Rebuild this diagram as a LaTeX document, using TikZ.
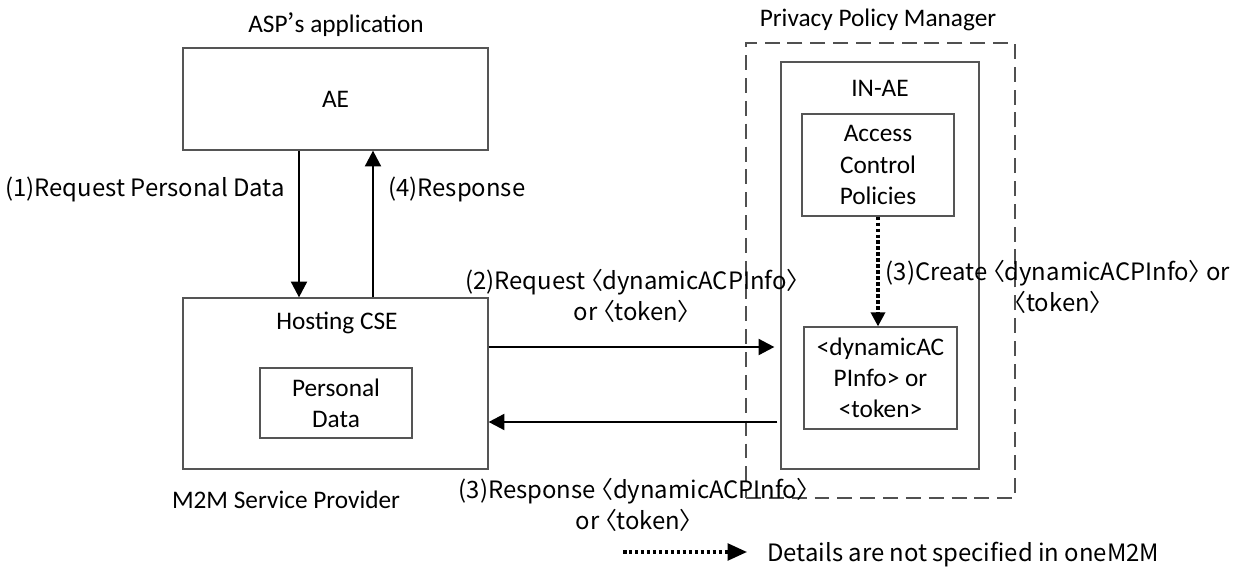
\documentclass[tikz,border=0pt]{standalone}
\usepackage{fontspec}
\setmainfont{Carlito}
\newfontfamily\jpfont{Noto Sans CJK JP}
\newfontfamily\jplabelfont[RawFeature=+palt]{Noto Sans CJK JP}
\usetikzlibrary{arrows.meta}

\begin{document}
\begin{tikzpicture}[x=0.02cm, y=-0.02cm,
  box/.style={draw=boxGray, line width=0.7pt, align=center, inner sep=0pt,
    font=\fontsize{14.4}{17.8}\selectfont},
  txt/.style={inner sep=0pt, font=\fontsize{14.4}{17.8}\selectfont},
  lbl/.style={align=center, inner sep=0pt, font=\jplabelfont\fontsize{13.6}{17.5}\selectfont},
  flow/.style={line width=1.5pt, -{Triangle[length=9pt, width=9pt]}},
  unspec/.style={line width=1.8pt, dash pattern=on 2pt off 1.4pt,
    -{Triangle[length=8pt, width=8pt]}}]

% colours
\definecolor{boxGray}{HTML}{555555}
\definecolor{ppmGray}{HTML}{505050}

\useasboundingbox (0,0) rectangle (1242,574);

% ASP side
\node[txt] (asptitle) at (336,25) {ASP{\jpfont ’}s application};
\node[box, minimum width=6.1cm, minimum height=2.04cm] (ae) at (335.5,99) {AE};
\node[box, minimum width=6.1cm, minimum height=3.42cm] (hosting) at (335.5,383.5) {};
\node[txt] (hostingtitle) at (337,323) {Hosting CSE};
\node[box, minimum width=3.04cm, minimum height=1.4cm] (pdata) at (336,403) {Personal\\Data};
\node[txt] (sptitle) at (286,500) {M2M Service Provider};

% Privacy Policy Manager
\node[txt] (ppmtitle) at (878,20) {Privacy Policy Manager};
\node[draw=ppmGray, line width=0.7pt, dash pattern=on 8.5pt off 4.5pt,
  minimum width=5.38cm, minimum height=9.1cm] (ppm) at (880.5,270.5) {};
\node[box, minimum width=3.96cm, minimum height=8.14cm] (inae) at (880,265.5) {};
\node[txt] (inaetitle) at (880,88) {IN-AE};
\node[box, minimum width=3.04cm, minimum height=2.04cm] (acp) at (878,165)
  {Access\\Control\\Policies};
\node[box, minimum width=3.06cm, minimum height=2.04cm] (dacp) at (880.5,378)
  {<dynamicAC\\PInfo> or\\<token>};

% flows
\draw[flow] ([xshift=-0.73cm]ae.south) -- ([xshift=-0.73cm]hosting.north);
\draw[flow] ([xshift=0.75cm]hosting.north) -- ([xshift=0.75cm]ae.south);
\draw[flow, shorten >=0.12cm] ([yshift=0.73cm]hosting.east) -- ([yshift=0.73cm]hosting.east -| inae.west);
\draw[flow, shorten <=0.06cm] ([yshift=-0.77cm]hosting.east -| inae.west) -- ([yshift=-0.77cm]hosting.east);
\draw[unspec] (acp.south) -- (acp.south |- dacp.north);

% flow labels
\node[lbl, anchor=east] (lreq) at (285,189) {(1)Request Personal Data};
\node[lbl, anchor=west] (lresp) at (388,189) {(4)Response};
\node[lbl] (lacpreq) at (632,296) {(2)Request 〈dynamicACPInfo〉\\or 〈token〉};
\node[lbl] (lacpresp) at (634,505) {(3)Response 〈dynamicACPInfo〉\\or 〈token〉};
\node[lbl] (lcreate) at (1058,287) {(3)Create 〈dynamicACPInfo〉 or\\〈token〉};

% legend
\coordinate (legfrom) at (623,552);
\coordinate (legto) at (747,552);
\draw[unspec, -{Triangle[length=11pt, width=9.5pt]}] (legfrom) -- (legto);
\node[lbl, anchor=west] (legtext) at (767,555) {Details are not specified in oneM2M};

\end{tikzpicture}
\end{document}
